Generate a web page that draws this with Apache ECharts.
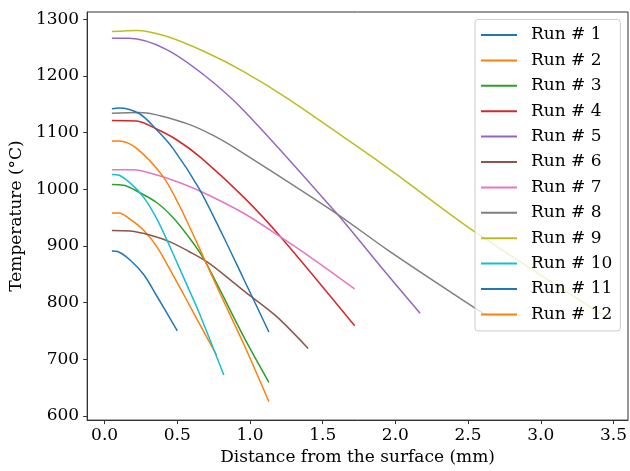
<!DOCTYPE html>
<html>
<head>
<meta charset="utf-8">
<script src="https://cdn.jsdelivr.net/npm/echarts@6/dist/echarts.min.js"></script>
<style>html,body{margin:0;padding:0;background:#fff}#c{width:630px;height:471px}</style>
</head>
<body>
<div id="c"></div>
<script>
const runNames = ['Run # 1','Run # 2','Run # 3','Run # 4','Run # 5','Run # 6','Run # 7','Run # 8','Run # 9','Run # 10','Run # 11','Run # 12'];
const run1x = [0.05,0.09,0.175,0.27,0.36,0.50];
const run1y = [891,890,875,849,811,750];
const run2x = [0.05,0.10,0.175,0.27,0.36,0.45,0.55,0.77];
const run2y = [958,958,947,927,898,858,811,707];
const run3x = [0.05,0.13,0.24,0.36,0.47,0.58,0.68,0.77,0.97,1.13];
const run3y = [1008,1007,994,976,950,915,878,834,733,659];
const run4x = [0.05,0.22,0.35,0.49,0.66,0.96,1.22,1.72];
const run4y = [1121,1120,1107,1088,1056,985,913,759];
const run5x = [0.05,0.17,0.42,0.69,0.96,1.60,1.90,2.17];
const run5y = [1266,1266,1247,1200,1138,956,863,781];
const run6x = [0.05,0.175,0.31,0.45,0.58,0.72,0.96,1.18,1.40];
const run6y = [927,926,919,907,890,869,820,776,719];
const run7x = [0.05,0.20,0.33,0.49,0.67,0.96,1.22,1.41,1.72];
const run7y = [1034,1034,1027,1014,995,957,914,881,824];
const run8x = [0.05,0.24,0.56,0.76,0.95,1.60,1.95,2.56,2.62];
const run8y = [1134,1135,1116,1093,1064,956,892,788,779];
const run9x = [0.05,0.22,0.42,0.70,0.96,1.27,1.90,2.04,2.55,3.45];
const run9y = [1278,1280,1270,1241,1207,1158,1046,1020,924,774];
const run10x = [0.05,0.095,0.175,0.27,0.36,0.45,0.54,0.65,0.82];
const run10y = [1026,1025,1011,985,947,898,846,782,672];
const run11x = [0.05,0.10,0.24,0.35,0.47,0.65,0.81,0.95,1.13];
const run11y = [1142,1143,1133,1107,1072,1001,920,845,748];
const run12x = [0.05,0.10,0.21,0.40,0.52,0.675,0.79,0.96,1.13];
const run12y = [1085,1085,1074,1023,968,883,818,725,625];
const xTicks = [0.0,0.5,1.0,1.5,2.0,2.5,3.0,3.5];
const yTicks = [600,700,800,900,1000,1100,1200,1300];

const runsX = [run1x,run2x,run3x,run4x,run5x,run6x,run7x,run8x,run9x,run10x,run11x,run12x];
const runsY = [run1y,run2y,run3y,run4y,run5y,run6y,run7y,run8y,run9y,run10y,run11y,run12y];
const colors = ['#1f77b4','#ff7f0e','#2ca02c','#d62728','#9467bd','#8c564b','#e377c2','#7f7f7f','#bcbd22','#17becf','#1f77b4','#ff7f0e'];
const font = 'DejaVu Serif';

const series = runNames.map((n,i)=>({
  name:n, type:'line', showSymbol:false, smooth:0.3,
  lineStyle:{width:1.5,color:colors[i]}, itemStyle:{color:colors[i]},
  data: runsX[i].map((x,j)=>[x, runsY[i][j]])
}));

const chart = echarts.init(document.getElementById('c'));
chart.setOption({
  animation:false,
  color:colors,
  grid:{left:83,right:2,top:12,bottom:45,show:true,borderColor:'#333',borderWidth:1,backgroundColor:'transparent'},
  xAxis:{type:'value',min:-0.12,max:3.6,
    name:'Distance from the surface (mm)',nameLocation:'middle',nameGap:26,
    nameTextStyle:{fontFamily:font,fontSize:17,color:'#000'},
    axisLine:{show:true,onZero:false,lineStyle:{color:'#333',width:1}},
    axisTick:{show:true,inside:false,length:4,lineStyle:{color:'#333'},customValues:xTicks},
    axisLabel:{fontFamily:font,fontSize:17,color:'#000',margin:7,customValues:xTicks,formatter:v=>v.toFixed(1)},
    splitLine:{show:false}},
  yAxis:{type:'value',min:592.5,max:1312.5,
    name:'Temperature (°C)',nameLocation:'middle',nameGap:56,nameRotate:90,
    nameTextStyle:{fontFamily:font,fontSize:17,color:'#000'},
    axisLine:{show:true,onZero:false,lineStyle:{color:'#333',width:1}},
    axisTick:{show:true,inside:false,length:4,lineStyle:{color:'#333'},customValues:yTicks},
    axisLabel:{fontFamily:font,fontSize:17,color:'#000',margin:8,customValues:yTicks,formatter:v=>String(v)},
    splitLine:{show:false}},
  legend:{orient:'vertical',left:475,top:19.5,
    backgroundColor:'rgba(255,255,255,0.8)',borderColor:'#cccccc',borderWidth:1,borderRadius:3,
    padding:[7,8,8,6],itemGap:8.4,itemWidth:36,itemHeight:2,icon:'rect',
    textStyle:{fontFamily:font,fontSize:17,color:'#000',padding:[0,0,0,9]},
    data:runNames},
  series:series
});
</script>
</body>
</html>
